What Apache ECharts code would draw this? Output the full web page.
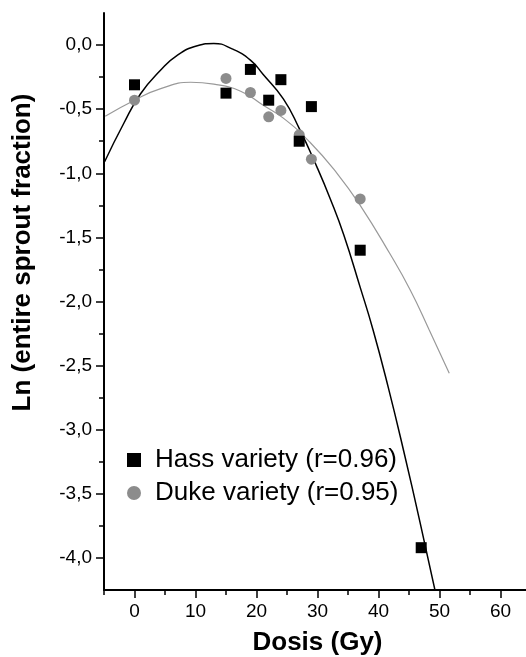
<!DOCTYPE html>
<html><head><meta charset="utf-8">
<script src="https://cdn.jsdelivr.net/npm/echarts@6/dist/echarts.min.js"></script>
<style>html,body{margin:0;padding:0;background:#fff}#c{width:526px;height:657px}</style>
</head><body><div id="c"></div>
<script>
const xMajorTicks = [0, 10, 20, 30, 40, 50, 60];
const xMinorTicks = [-5, 5, 15, 25, 35, 45, 55];
const yMajorTicks = [-4, -3.5, -3, -2.5, -2, -1.5, -1, -0.5, 0];
const yMinorTicks = [-3.75, -3.25, -2.75, -2.25, -1.75, -1.25, -0.75, -0.25];

const hassName = 'Hass variety (r=0.96)';
const dukeName = 'Duke variety (r=0.95)';

const hassDose = [0, 15, 19, 22, 24, 27, 29, 37, 47];
const hassLn = [-0.31, -0.375, -0.19, -0.43, -0.27, -0.75, -0.48, -1.60, -3.92];
const dukeDose = [0, 15, 19, 22, 24, 27, 29, 37];
const dukeLn = [-0.43, -0.26, -0.37, -0.56, -0.51, -0.70, -0.89, -1.20];

const hassFitDose = [-4.9, -1.75, 1.0, 4.3, 7.0, 10.3, 13.0, 16.0, 19.0, 21.1, 24.4, 27.0, 29.9, 32.1, 34.3, 37.0, 39.1, 41.6, 44.1, 46.8, 49.3];
const hassFitLn = [-0.91, -0.61, -0.38, -0.195, -0.08, -0.005, 0.013, -0.03, -0.117, -0.23, -0.42, -0.65, -0.95, -1.20, -1.48, -1.89, -2.22, -2.67, -3.16, -3.72, -4.26];
const dukeFitDose = [-4.8, 0, 4.3, 9.2, 13.0, 17.4, 21.1, 24.4, 28.8, 33.2, 37.0, 41.9, 45.2, 48.3, 51.6];
const dukeFitLn = [-0.555, -0.43, -0.34, -0.29, -0.305, -0.36, -0.47, -0.57, -0.76, -1.0, -1.25, -1.63, -1.91, -2.22, -2.56];

const FONT = "'Liberation Sans', Arial, Helvetica, sans-serif";
const zip = (a, b) => a.map((v, i) => [v, b[i]]);
const fmt = v => (Math.abs(v) < 1e-9 ? 0 : v).toFixed(1).replace('.', ',');

const chart = echarts.init(document.getElementById('c'), null, {renderer: 'canvas'});
const axisCommon = {
  type: 'value', splitLine: {show: false}
};
chart.setOption({
  animation: false,
  backgroundColor: '#fff',
  grid: {left: 104, top: 13, width: 427, height: 577, containLabel: false, outerBoundsMode: 'none'},
  legend: {
    orient: 'vertical', left: 122, top: 442, itemWidth: 14, itemHeight: 14, itemGap: 7,
    textStyle: {fontFamily: FONT, fontSize: 26, color: '#000', padding: [0, 0, 0, 9]},
    data: [{name: hassName, icon: 'rect'}, {name: dukeName, icon: 'circle'}]
  },
  xAxis: [
    Object.assign({}, axisCommon, {
      min: -5, max: 65, position: 'bottom',
      name: 'Dosis (Gy)', nameLocation: 'middle', nameGap: 40,
      nameTextStyle: {fontFamily: FONT, fontSize: 26, fontWeight: 'bold', color: '#000'},
      axisLine: {show: true, onZero: false, lineStyle: {color: '#000', width: 2}},
      axisTick: {show: true, inside: false, length: 8, lineStyle: {color: '#000', width: 1.5}, customValues: xMajorTicks},
      axisLabel: {show: true, margin: 12, fontFamily: FONT, fontSize: 19, color: '#000', customValues: xMajorTicks}
    }),
    Object.assign({}, axisCommon, {
      min: -5, max: 65, position: 'bottom',
      axisLine: {show: false, onZero: false},
      axisTick: {show: true, inside: false, length: 5, lineStyle: {color: '#000', width: 1.5}, customValues: xMinorTicks},
      axisLabel: {show: false}
    })
  ],
  yAxis: [
    Object.assign({}, axisCommon, {
      min: -4.25, max: 0.25, position: 'left',
      name: 'Ln (entire sprout fraction)', nameLocation: 'middle', nameGap: 68,
      nameTextStyle: {fontFamily: FONT, fontSize: 26, fontWeight: 'bold', color: '#000', padding: [0, 0, 0, 98]},
      axisLine: {show: true, onZero: false, lineStyle: {color: '#000', width: 2}},
      axisTick: {show: true, inside: false, length: 8, lineStyle: {color: '#000', width: 1.5}, customValues: yMajorTicks},
      axisLabel: {show: true, margin: 12, fontFamily: FONT, fontSize: 19, color: '#000', customValues: yMajorTicks, formatter: fmt}
    }),
    Object.assign({}, axisCommon, {
      min: -4.25, max: 0.25, position: 'left',
      axisLine: {show: false, onZero: false},
      axisTick: {show: true, inside: false, length: 5, lineStyle: {color: '#000', width: 1.5}, customValues: yMinorTicks},
      axisLabel: {show: false}
    })
  ],
  series: [
    {type: 'line', name: 'hassFit', data: zip(hassFitDose, hassFitLn), smooth: 0.5, symbol: 'none', z: 1,
     lineStyle: {color: '#000', width: 1.5}, clip: true, silent: true},
    {type: 'line', name: 'dukeFit', data: zip(dukeFitDose, dukeFitLn), smooth: 0.5, symbol: 'none', z: 1,
     lineStyle: {color: '#999', width: 1.2}, clip: true, silent: true},
    {type: 'scatter', name: dukeName, data: zip(dukeDose, dukeLn), symbol: 'circle', symbolSize: 11, z: 3,
     itemStyle: {color: '#8c8c8c', opacity: 1}},
    {type: 'scatter', name: hassName, data: zip(hassDose, hassLn), symbol: 'rect', symbolSize: 11, z: 4,
     itemStyle: {color: '#000', opacity: 1}}
  ]
});
</script></body></html>
